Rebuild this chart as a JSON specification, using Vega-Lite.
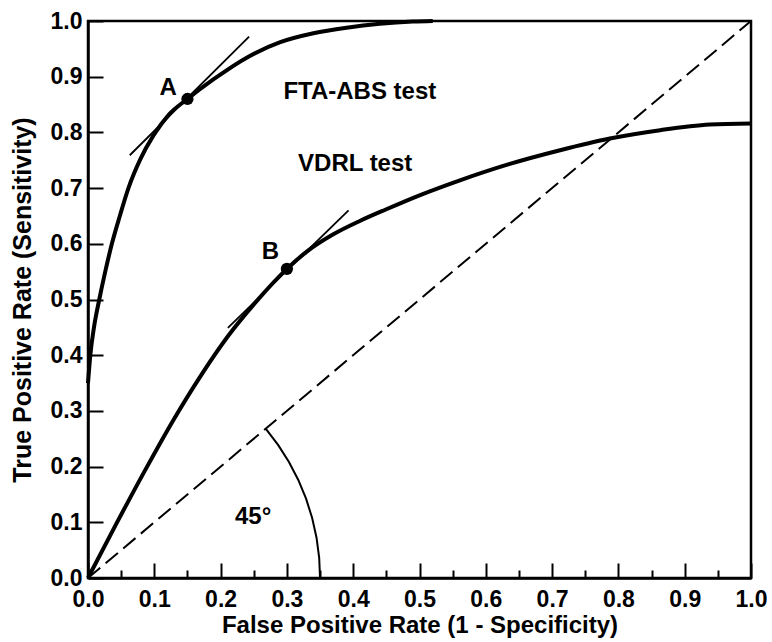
{
  "$schema": "https://vega.github.io/schema/vega-lite/v6.json",
  "width": 663,
  "height": 557,
  "autosize": {"type": "none"},
  "padding": {"left": 88, "top": 21, "right": 21, "bottom": 64},
  "background": "white",
  "config": {
    "view": {"stroke": "black", "strokeWidth": 2.5},
    "axis": {
      "domainColor": "black", "domainWidth": 2.5,
      "tickColor": "black", "tickWidth": 2, "grid": false,
      "labelFont": "Liberation Sans", "labelFontWeight": "bold", "labelFontSize": 23, "labelColor": "black",
      "titleFont": "Liberation Sans", "titleFontWeight": "bold", "titleFontSize": 24, "titleColor": "black"
    }
  },
  "datasets": {
    "diag": [{"x": 0, "y": 0}, {"x": 1, "y": 1}],
    "arc": [
      {"i": 0, "x": 0.35, "y": 0},
      {"i": 1, "x": 0.3487, "y": 0.0363},
      {"i": 2, "x": 0.3447, "y": 0.0723},
      {"i": 3, "x": 0.3381, "y": 0.1078},
      {"i": 4, "x": 0.3289, "y": 0.1425},
      {"i": 5, "x": 0.3172, "y": 0.176},
      {"i": 6, "x": 0.3031, "y": 0.2083},
      {"i": 7, "x": 0.2867, "y": 0.2389},
      {"i": 8, "x": 0.268, "y": 0.268}
    ],
    "fta": [
      {"x": 0.0, "y": 0.35}, {"x": 0.0035, "y": 0.40}, {"x": 0.009, "y": 0.45},
      {"x": 0.017, "y": 0.50}, {"x": 0.026, "y": 0.55}, {"x": 0.036, "y": 0.60},
      {"x": 0.048, "y": 0.65}, {"x": 0.061, "y": 0.70}, {"x": 0.079, "y": 0.752},
      {"x": 0.099, "y": 0.795}, {"x": 0.122, "y": 0.832}, {"x": 0.15, "y": 0.86},
      {"x": 0.189, "y": 0.895}, {"x": 0.242, "y": 0.936}, {"x": 0.29, "y": 0.962},
      {"x": 0.34, "y": 0.978}, {"x": 0.39, "y": 0.988}, {"x": 0.44, "y": 0.995},
      {"x": 0.49, "y": 0.999}, {"x": 0.52, "y": 1.0}
    ],
    "vdrl": [
      {"x": 0.0, "y": 0.0}, {"x": 0.043, "y": 0.098}, {"x": 0.085, "y": 0.191},
      {"x": 0.128, "y": 0.282}, {"x": 0.17, "y": 0.363}, {"x": 0.211, "y": 0.434},
      {"x": 0.255, "y": 0.498}, {"x": 0.30, "y": 0.555}, {"x": 0.33, "y": 0.586},
      {"x": 0.37, "y": 0.617}, {"x": 0.41, "y": 0.641}, {"x": 0.45, "y": 0.662},
      {"x": 0.50, "y": 0.687}, {"x": 0.561, "y": 0.714}, {"x": 0.635, "y": 0.743},
      {"x": 0.712, "y": 0.768}, {"x": 0.787, "y": 0.789}, {"x": 0.863, "y": 0.804},
      {"x": 0.938, "y": 0.814}, {"x": 1.0, "y": 0.816}
    ],
    "tangents": [
      {"g": "A", "x": 0.063, "y": 0.759}, {"g": "A", "x": 0.243, "y": 0.972},
      {"g": "B", "x": 0.211, "y": 0.449}, {"g": "B", "x": 0.393, "y": 0.66}
    ],
    "points": [{"x": 0.15, "y": 0.86}, {"x": 0.30, "y": 0.555}],
    "labels": [
      {"x": 0.121, "y": 0.879, "t": "A"},
      {"x": 0.41, "y": 0.873, "t": "FTA-ABS test"},
      {"x": 0.403, "y": 0.743, "t": "VDRL test"},
      {"x": 0.275, "y": 0.586, "t": "B"},
      {"x": 0.249, "y": 0.110, "t": "45°"}
    ]
  },
  "layer": [
    {
      "data": {"name": "diag"},
      "mark": {"type": "line", "color": "black", "strokeWidth": 2, "strokeDash": [16, 7]},
      "encoding": {
        "x": {"field": "x", "type": "quantitative", "scale": {"domain": [0, 1], "nice": false},
          "axis": {"values": [0, 0.1, 0.2, 0.3, 0.4, 0.5, 0.6, 0.7, 0.8, 0.9, 1.0], "format": ".1f", "tickSize": -15, "labelPadding": 25, "labelFlush": false, "title": "False Positive Rate (1 - Specificity)", "titlePadding": 2}},
        "y": {"field": "y", "type": "quantitative", "scale": {"domain": [0, 1], "nice": false},
          "axis": {"values": [0, 0.1, 0.2, 0.3, 0.4, 0.5, 0.6, 0.7, 0.8, 0.9, 1.0], "format": ".1f", "tickSize": -15, "labelPadding": 21, "labelFlush": false, "title": "True Positive Rate (Sensitivity)", "titleFontSize": 25, "titlePadding": 15}}
      }
    },
    {
      "data": {"name": "arc"},
      "mark": {"type": "line", "color": "black", "strokeWidth": 2},
      "encoding": {
        "x": {"field": "x", "type": "quantitative",
          "axis": {"orient": "bottom", "values": [0.05, 0.15, 0.25, 0.35, 0.45, 0.55, 0.65, 0.75, 0.85, 0.95], "labels": false, "domain": false, "tickSize": -8, "title": null}},
        "y": {"field": "y", "type": "quantitative"},
        "order": {"field": "i", "type": "quantitative"}
      }
    },
    {
      "data": {"name": "fta"},
      "mark": {"type": "line", "color": "black", "strokeWidth": 4, "interpolate": "monotone"},
      "encoding": {
        "x": {"field": "x", "type": "quantitative", "axis": null},
        "y": {"field": "y", "type": "quantitative"}
      }
    },
    {
      "data": {"name": "vdrl"},
      "mark": {"type": "line", "color": "black", "strokeWidth": 4, "interpolate": "monotone"},
      "encoding": {
        "x": {"field": "x", "type": "quantitative", "axis": null},
        "y": {"field": "y", "type": "quantitative"}
      }
    },
    {
      "data": {"name": "tangents"},
      "mark": {"type": "line", "color": "black", "strokeWidth": 1.8},
      "encoding": {
        "x": {"field": "x", "type": "quantitative", "axis": null},
        "y": {"field": "y", "type": "quantitative"},
        "detail": {"field": "g", "type": "nominal"}
      }
    },
    {
      "data": {"name": "points"},
      "mark": {"type": "circle", "color": "black", "opacity": 1, "size": 150},
      "encoding": {
        "x": {"field": "x", "type": "quantitative", "axis": null},
        "y": {"field": "y", "type": "quantitative"}
      }
    },
    {
      "data": {"name": "labels"},
      "mark": {"type": "text", "font": "Liberation Sans", "fontWeight": "bold", "fontSize": 24, "color": "black", "align": "center", "baseline": "middle"},
      "encoding": {
        "x": {"field": "x", "type": "quantitative", "axis": null},
        "y": {"field": "y", "type": "quantitative"},
        "text": {"field": "t", "type": "nominal"}
      }
    }
  ],
  "resolve": {"axis": {"x": "independent"}}
}
